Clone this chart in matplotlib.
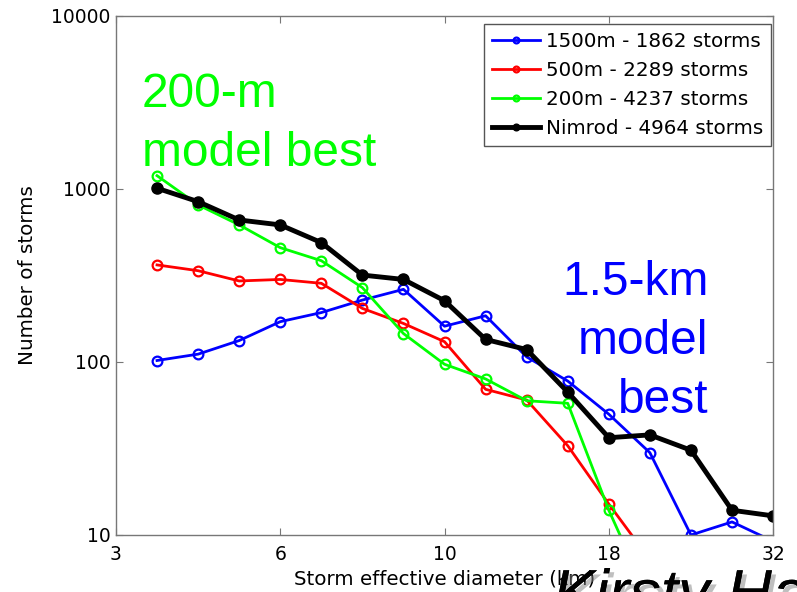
"""
Storm size distributions: model resolutions vs Nimrod radar
"""

import matplotlib
matplotlib.use("Agg")
import matplotlib.pyplot as plt
import matplotlib.patheffects as pe

# size bins (index along the diameter axis) and their axis labels
size_bin = [1, 2, 3, 4, 5, 6, 7, 8, 9, 10, 11, 12, 13, 14, 15, 16]
tick_bins = [0, 4, 8, 12, 16]
tick_labels = ['3', '6', '10', '18', '32']

# storm counts per size bin
counts_1500m = [102, 111, 133, 171, 193, 228, 263, 161, 185, 107, 77.6, 49.9, 29.9, 10.0, 11.9, 9.2]
counts_500m = [364, 337, 294, 300, 285, 204, 167, 131, 69.5, 60.3, 32.8, 15.1, 7.2]
counts_200m = [1194, 809, 620, 458, 385, 269, 146, 97, 79.8, 59.7, 57.7, 13.9, 4.15]
counts_nimrod = [1010, 845, 662, 620, 490, 318, 300, 226, 135, 118, 67, 36.5, 37.9, 30.9, 13.9, 12.9]

series = [
    ('1500m - 1862 storms', counts_1500m, 'blue'),
    ('500m - 2289 storms', counts_500m, 'red'),
    ('200m - 4237 storms', counts_200m, '#00ff00'),
]

plt.rcParams['font.family'] = ['DejaVu Sans']

fig = plt.figure(figsize=(7.97, 5.92), dpi=100)
ax = fig.add_axes([0.1455, 0.0963, 0.8245, 0.8767])

for label, vals, col in series:
    ax.plot(size_bin[:len(vals)], vals, '-o', color=col, lw=2, ms=7,
            mfc='none', mew=1.6, label=label)
ax.plot(size_bin, counts_nimrod, '-o', color='black', lw=3.5, ms=8,
        label='Nimrod - 4964 storms')

ax.set_yscale('log')
ax.set_ylim(10, 10000)
ax.set_xlim(0, 16)
ax.set_yticks([10, 100, 1000, 10000])
ax.set_yticklabels(['10', '100', '1000', '10000'])
ax.minorticks_off()
ax.set_xticks(tick_bins)
ax.set_xticklabels(tick_labels)

for s in ax.spines.values():
    s.set_color('#777777')
    s.set_linewidth(1)
ax.tick_params(direction='in', length=5, color='#777777', top=True, right=True,
               labelsize=13.5)
ax.tick_params(axis='x', pad=7)
ax.tick_params(axis='y', pad=4)

ax.set_xlabel('Storm effective diameter (km)', fontsize=14.3, labelpad=4)
ax.set_ylabel('Number of storms', fontsize=14.3, labelpad=10)

leg = ax.legend(loc='upper right', bbox_to_anchor=(1.0, 0.988), fontsize=14.3,
                handlelength=2.4, handletextpad=0.3, borderpad=0.4,
                labelspacing=0.5, borderaxespad=0.1, fancybox=False,
                framealpha=1, markerscale=0.6)
leg.get_frame().set_edgecolor('#555555')
leg.get_frame().set_linewidth(1)

# annotations on the plot
ax.text(0.039, 0.711, '200-m\nmodel best', transform=ax.transAxes, color='#00ff00',
        fontsize=34.5, family='Liberation Sans', linespacing=1.40, va='baseline')
ax.text(0.902, 0.235, '1.5-km\nmodel\nbest', transform=ax.transAxes, color='blue',
        fontsize=34.5, family='Liberation Sans', linespacing=1.40, ha='right',
        multialignment='right', va='baseline')

fig.text(0.694, -0.036, 'Kirsty Hanley', fontsize=45, style='italic',
         family='Liberation Sans', va='baseline',
         path_effects=[pe.withSimplePatchShadow(offset=(3, -3), shadow_rgbFace='gray', alpha=0.5),
                       pe.Normal()])

fig.savefig('out.png', dpi=100)
